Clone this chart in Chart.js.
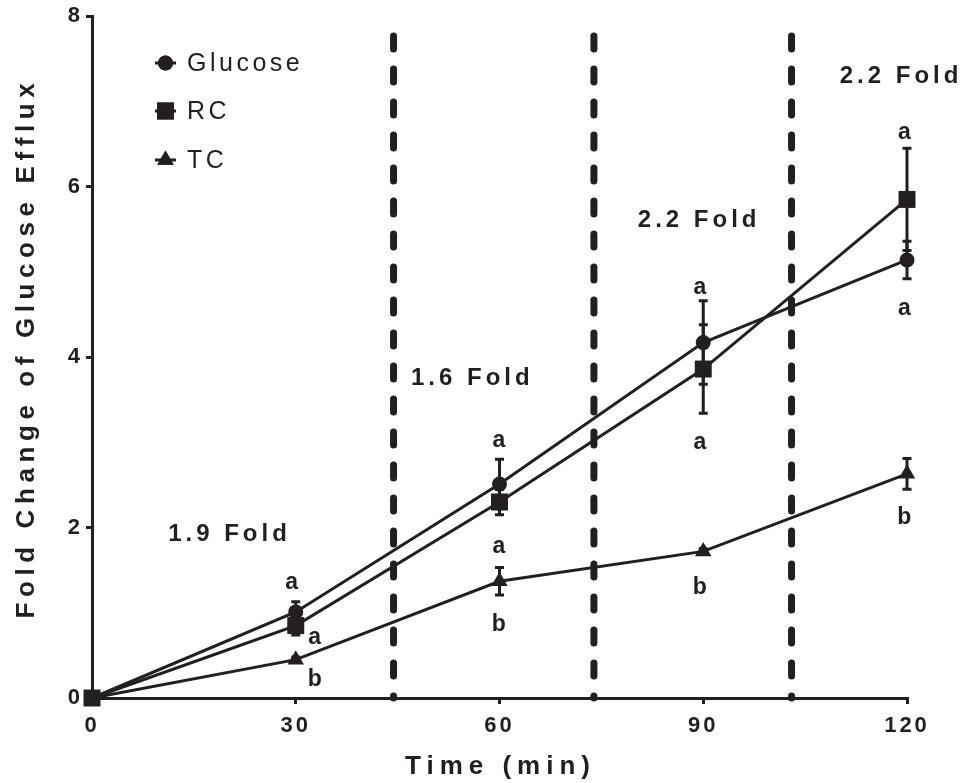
<!DOCTYPE html>
<html>
<head>
<meta charset="utf-8">
<script src="https://cdn.jsdelivr.net/npm/chart.js@4/dist/chart.umd.min.js"></script>
<style>
  html, body { margin: 0; padding: 0; background: #fff; }
  #wrap { width: 960px; height: 783px; }
</style>
</head>
<body>
<div id="wrap"><canvas id="effluxChart" width="960" height="783"></canvas></div>
<script>
// time points (min)
const timePoints = [0, 30, 60, 90, 120];

// fold change of glucose efflux
const glucoseVals = [0, 1.01, 2.51, 4.17, 5.14];
const rcVals      = [0, 0.85, 2.30, 3.86, 5.85];
const tcVals      = [0, 0.45, 1.37, 1.72, 2.63];

// error bars (+/-)
const glucoseErr = [0, 0.12, 0.29, 0.49, 0.22];
const rcErr      = [0, 0.11, 0.15, 0.52, 0.60];
const tcErr      = [0, 0.03, 0.16, 0.03, 0.18];

// dashed separators (min)
const foldBounds = [44.4, 73.9, 103];

// letters and fold labels, placed in data units
const letterMarks = [
  ['a', 29.4, 1.35], ['a', 32.8, 0.71], ['b', 32.8, 0.21],
  ['a', 59.9, 3.02], ['a', 59.9, 1.78], ['b', 59.9, 0.86],
  ['a', 89.5, 4.81], ['a', 89.5, 3.00], ['b', 89.5, 1.29],
  ['a', 119.6, 6.63], ['a', 119.6, 4.57], ['b', 119.6, 2.12]
];
const foldLabels = [
  ['1.9 Fold', 19.95, 1.92, 'center'],
  ['1.6 Fold', 55.7, 3.75, 'center'],
  ['2.2 Fold', 89.1, 5.60, 'center'],
  ['2.2 Fold', 110.1, 7.29, 'left']
];

const ink = '#231f20';
const fam = "'Liberation Sans', Arial, sans-serif";

function series(vals) {
  return vals.map((v, i) => ({ x: timePoints[i], y: v }));
}

const seriesInfo = [
  { label: 'Glucose', vals: glucoseVals, err: glucoseErr, style: 'circle', r: 7.5 },
  { label: 'RC', vals: rcVals, err: rcErr, style: 'rect', r: 12 },
  { label: 'TC', vals: tcVals, err: tcErr, style: 'triangle', r: 9.5 }
];

const datasets = seriesInfo.map(s => ({
  label: s.label,
  data: series(s.vals),
  borderColor: ink,
  backgroundColor: ink,
  borderWidth: 3,
  pointStyle: s.style,
  pointRadius: s.r,
  pointBorderWidth: 0,
  tension: 0,
  clip: false
}));

foldBounds.forEach(b => {
  datasets.push({
    label: 'bound',
    data: [{ x: b, y: 0 }, { x: b, y: 8 }],
    borderColor: ink,
    borderWidth: 7,
    borderDash: [13, 20],
    borderDashOffset: 11,
    borderCapStyle: 'round',
    pointRadius: 0,
    clip: false
  });
});

const overlay = {
  id: 'overlay',
  beforeDraw(chart) {
    chart.ctx.letterSpacing = '3px';
  },
  beforeDatasetsDraw(chart) {
    const ctx = chart.ctx;
    const xs = chart.scales.x, ys = chart.scales.y;
    ctx.save();
    ctx.strokeStyle = ink;
    ctx.lineWidth = 3;
    seriesInfo.forEach(s => {
      s.vals.forEach((v, i) => {
        if (!s.err[i]) return;
        const px = xs.getPixelForValue(timePoints[i]);
        const top = ys.getPixelForValue(v + s.err[i]);
        const bot = ys.getPixelForValue(v - s.err[i]);
        ctx.beginPath();
        ctx.moveTo(px, top); ctx.lineTo(px, bot);
        ctx.moveTo(px - 4.5, top); ctx.lineTo(px + 4.5, top);
        ctx.moveTo(px - 4.5, bot); ctx.lineTo(px + 4.5, bot);
        ctx.stroke();
      });
    });
    ctx.restore();
  },
  afterDraw(chart) {
    const ctx = chart.ctx;
    const xs = chart.scales.x, ys = chart.scales.y;
    const area = chart.chartArea;
    ctx.save();
    ctx.fillStyle = ink;
    ctx.textBaseline = 'middle';

    // significance letters
    ctx.letterSpacing = '0px';
    ctx.font = 'bold 23px ' + fam;
    ctx.textAlign = 'center';
    letterMarks.forEach(m => {
      ctx.fillText(m[0], xs.getPixelForValue(m[1]), ys.getPixelForValue(m[2]));
    });

    // fold labels
    ctx.letterSpacing = '4px';
    ctx.font = 'bold 24px ' + fam;
    foldLabels.forEach(f => {
      ctx.textAlign = f[3];
      ctx.fillText(f[0], xs.getPixelForValue(f[1]) + (f[3] === 'center' ? 2 : 0), ys.getPixelForValue(f[2]));
    });

    // axis titles
    ctx.font = 'bold 26px ' + fam;
    ctx.textAlign = 'center';
    ctx.letterSpacing = '6px';
    ctx.fillText('Time (min)', (area.left + area.right) / 2 + 1, 767);
    ctx.letterSpacing = '5.6px';
    ctx.save();
    ctx.translate(27, (area.top + area.bottom) / 2 - 6);
    ctx.rotate(-Math.PI / 2);
    ctx.fillText('Fold Change of Glucose Efflux', 3, 0);
    ctx.restore();

    // legend
    ctx.letterSpacing = '3.5px';
    ctx.font = '25px ' + fam;
    ctx.textAlign = 'left';
    const rows = [63, 111, 160];
    seriesInfo.forEach((s, i) => {
      const y = rows[i];
      ctx.strokeStyle = ink;
      ctx.lineWidth = 3;
      ctx.beginPath();
      ctx.moveTo(155, y); ctx.lineTo(176, y);
      ctx.stroke();
      Chart.helpers.drawPoint(ctx, { pointStyle: s.style, radius: s.r, borderWidth: 0 }, 165.5, y);
      ctx.fill();
      ctx.fillText(s.label, 187, y + 1);
    });
    ctx.restore();
  }
};

new Chart(document.getElementById('effluxChart'), {
  type: 'line',
  data: { datasets: datasets },
  options: {
    responsive: false,
    animation: false,
    layout: { padding: { top: 15, right: 53, left: 0, bottom: 0 } },
    plugins: { legend: { display: false }, tooltip: { enabled: false } },
    scales: {
      x: {
        type: 'linear',
        min: 0, max: 120,
        afterFit: s => { s.height = 85; },
        ticks: { stepSize: 30, color: ink, padding: 9, font: { family: fam, size: 22, weight: 'bold' }, maxRotation: 0 },
        grid: { drawOnChartArea: false, drawTicks: true, tickLength: 6, color: ink, lineWidth: 3 },
        border: { display: true, color: ink, width: 3 }
      },
      y: {
        min: 0, max: 8,
        afterFit: s => { s.width = 92; },
        ticks: { stepSize: 2, color: ink, padding: 3, font: { family: fam, size: 22, weight: 'bold' } },
        grid: { drawOnChartArea: false, drawTicks: true, tickLength: 6, color: ink, lineWidth: 3 },
        border: { display: true, color: ink, width: 3 }
      }
    }
  },
  plugins: [overlay]
});
</script>
</body>
</html>
